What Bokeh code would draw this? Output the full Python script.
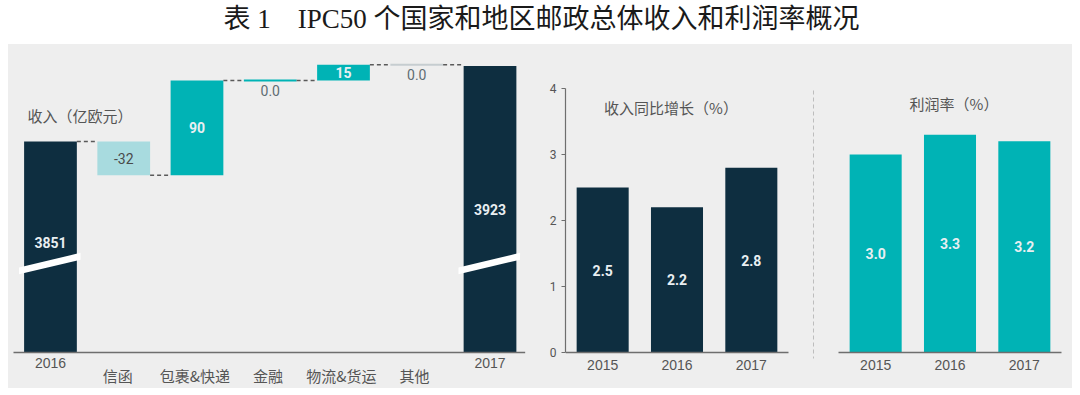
import numpy as np
from bokeh.plotting import figure
from bokeh.layouts import column, row
from bokeh.models import Range1d, FixedTicker
from bokeh.core.properties import value
from bokeh.embed import file_html
from bokeh.resources import INLINE

# ---------------- data ----------------
TITLE = "表 1 IPC50 个国家和地区邮政总体收入和利润率概况"
wf_categories = ["2016", "信函", "包裹&快递", "金融", "物流&货运", "其他", "2017"]
wf_start = 3851
wf_changes = [-32, 90, 0.0, 15, 0.0]
wf_end = 3923
wf_change_labels = ["-32", "90", "0.0", "15", "0.0"]
wf_title = "收入（亿欧元）"

years = ["2015", "2016", "2017"]
growth = [2.5, 2.2, 2.8]
growth_title = "收入同比增长（%）"
margin = [3.0, 3.3, 3.2]
margin_title = "利润率（%）"
y_ticks = [0, 1, 2, 3, 4]

# ---------------- style ----------------
BG = "#eeeeee"
NAVY = "#0e2e40"
TEAL = "#00b3b5"
LTEAL = "#a8dbdf"
ZGREY = "#c6cdd0"
TXT = "#555555"
WHITE = "#e9eff2"
CJK = value("Noto Sans CJK SC")
NUM = value("Roboto")
LAT = value("Liberation Sans")
CJK_SIZE = "15px"
H = 344

def style(p, fill=None):
    p.background_fill_color = fill
    p.border_fill_color = fill
    p.outline_line_color = None
    p.grid.visible = False

# ---------------- title ----------------
t = figure(width=1080, height=44, x_range=Range1d(0, 1080), y_range=Range1d(0, 44),
           x_axis_location=None, y_axis_location=None, min_border=0,
           output_backend="svg", toolbar_location=None)
style(t, "white")
t.text(x=[541], y=[26], text=[TITLE.replace("1 IPC", "1\u3000IPC")],
       text_font=value("Liberation Serif, Noto Sans CJK SC"), text_font_size="27px",
       text_align="center", text_baseline="middle", text_color="#1a1a1a")

# ---------------- waterfall ----------------
FLOOR = 3650       # broken-axis floor
W = 0.72
p1 = figure(width=530, height=H, x_range=Range1d(-0.573, 6.662),
            y_range=Range1d(3615.8, 3943.4),
            x_axis_location=None, y_axis_location=None, min_border=0,
            output_backend="svg", toolbar_location=None)
style(p1)

n = len(wf_categories)
xs = np.arange(n)
bottoms = [FLOOR]
tops = [wf_start]
levels = [wf_start]
run = wf_start
for c in wf_changes:
    new = run + c
    bottoms.append(min(run, new))
    tops.append(max(run, new))
    run = new
    levels.append(run)
bottoms.append(FLOOR)
tops.append(wf_end)

colors = [NAVY]
for c in wf_changes:
    colors.append(LTEAL if c < 0 else TEAL)
colors.append(NAVY)

bar_idx = [i for i in range(n) if tops[i] != bottoms[i]]
p1.vbar(x=[xs[i] for i in bar_idx], width=W, bottom=[bottoms[i] for i in bar_idx],
        top=[tops[i] for i in bar_idx], fill_color=[colors[i] for i in bar_idx],
        line_color=None)

# zero-change markers
zero_idx = [i for i in range(n) if tops[i] == bottoms[i]]
zcols = [TEAL if wf_categories[i] == "金融" else ZGREY for i in zero_idx]
p1.segment(x0=[xs[i] - W / 2 for i in zero_idx], x1=[xs[i] + W / 2 for i in zero_idx],
           y0=[tops[i] for i in zero_idx], y1=[tops[i] for i in zero_idx],
           line_color=zcols, line_width=2)

# axis-break stripes on total bars
sx, sy = [], []
for i in (0, n - 1):
    sx.append([i - 0.43, i + 0.41, i + 0.41, i - 0.43])
    sy.append([FLOOR + 81, FLOOR + 95, FLOOR + 88.5, FLOOR + 74.5])
p1.patches(sx, sy, fill_color="white", line_color=None)

# connectors
p1.segment(x0=[i + W / 2 for i in range(n - 1)], x1=[i + 1 - W / 2 for i in range(n - 1)],
           y0=levels[: n - 1], y1=levels[: n - 1],
           line_color="#5a5a5a", line_width=1.5, line_dash="4 3")

# baseline
p1.segment(x0=[-0.505], x1=[6.48], y0=[FLOOR], y1=[FLOOR], line_color="#6e6e6e", line_width=1.5)

# value labels
tot_labels = [str(wf_start), str(wf_end)]
p1.text(x=[0, n - 1], y=[(FLOOR + wf_start) / 2 + 4, (FLOOR + wf_end) / 2],
        text=tot_labels, text_font=NUM, text_font_size="14px", text_font_style="bold",
        text_color=WHITE, text_align="center", text_baseline="middle")
for j, c in enumerate(wf_changes):
    i = j + 1
    if c == 0:
        p1.text(x=[i], y=[tops[i]], y_offset=10, text=[wf_change_labels[j]], text_font=NUM,
                text_font_size="14px", text_color="#5f6d73",
                text_align="center", text_baseline="middle")
    else:
        col = "#4a4a4a" if c < 0 else WHITE
        p1.text(x=[i], y=[(tops[i] + bottoms[i]) / 2], text=[wf_change_labels[j]], text_font=NUM,
                text_font_size="14px", text_font_style="bold" if c > 0 else "normal",
                text_color=col, text_align="center", text_baseline="middle")

# category labels
yr_i = [0, n - 1]
mid_i = list(range(1, n - 1))
p1.text(x=yr_i, y=[FLOOR] * 2, y_offset=10, text=[wf_categories[i] for i in yr_i],
        text_font=LAT, text_font_size="14px", text_color=TXT,
        text_align="center", text_baseline="middle")
p1.text(x=[i - (0.08 if i == 1 else 0.03) for i in mid_i], y=[FLOOR] * len(mid_i), y_offset=23,
        text=[wf_categories[i] for i in mid_i],
        text_font=CJK, text_font_size=CJK_SIZE, text_color=TXT,
        text_align="center", text_baseline="middle")
p1.text(x=[-0.314], y=[3876], text=[wf_title], text_font=CJK, text_font_size=CJK_SIZE,
        text_color=TXT, text_align="left", text_baseline="middle")

# ---------------- small bar charts ----------------
def bar_fig(vals, color, ttl, ttl_off, ttl_y, with_axis, width, bl, x0, x1):
    p = figure(width=width, height=H, x_range=Range1d(x0, x1),
               y_range=Range1d(-36 / 66, 4 + 44 / 66),
               x_axis_location=None,
               y_axis_location="left" if with_axis else None,
               min_border_left=bl, min_border_right=0, min_border_top=0, min_border_bottom=0,
               output_backend="svg", toolbar_location=None)
    style(p)
    xi = list(range(len(years)))
    p.vbar(x=xi, top=vals, width=0.70, fill_color=color, line_color=None)
    p.text(x=xi, y=[v / 2 for v in vals], text=[f"{v:.1f}" for v in vals],
           text_font=NUM, text_font_size="14px", text_font_style="bold", text_color=WHITE,
           text_align="center", text_baseline="middle")
    p.text(x=[1], y=[ttl_y], x_offset=ttl_off, text=[ttl], text_font=CJK,
           text_font_size=CJK_SIZE, text_color=TXT, text_align="center", text_baseline="middle")
    # baseline and category labels
    p.segment(x0=[-0.5], x1=[len(years) - 0.5], y0=[0], y1=[0], line_color="#6e6e6e", line_width=1.5)
    p.text(x=xi, y=[0] * len(xi), y_offset=12, text=years, text_font=LAT,
           text_font_size="14px", text_color=TXT, text_align="center", text_baseline="middle")
    if with_axis:
        ay = p.yaxis[0]
        ay.ticker = FixedTicker(ticks=y_ticks)
        ay.bounds = (0, 4)
        ay.axis_line_color = "#6e6e6e"
        ay.axis_line_width = 1.2
        ay.major_tick_line_color = "#6e6e6e"
        ay.major_tick_out = 4
        ay.major_tick_in = 0
        ay.minor_tick_line_color = None
        ay.major_label_standoff = 5
        ay.major_label_text_font = "Roboto"
        ay.major_label_text_font_size = "12px"
        ay.major_label_text_color = TXT
    return p

STEP = 74.33
p2 = bar_fig(growth, NAVY, growth_title, -6, 3.71, True, 265, 27, -0.5, -0.5 + 238 / STEP)

# separator
sep = figure(width=20, height=H, x_range=Range1d(0, 20), y_range=Range1d(H, 0),
             x_axis_location=None, y_axis_location=None, min_border=0,
             output_backend="svg", toolbar_location=None)
style(sep)
sep.segment(x0=[10], x1=[10], y0=[46], y1=[314], line_color="#bdbdbd", line_width=1, line_dash="4 3")

p3 = bar_fig(margin, TEAL, margin_title, 4, 3.77, False, 249, 0,
             -0.5 - 15 / STEP, 2.5 + 11 / STEP)

body = row(p1, p2, sep, p3, margin=(0, 8, 0, 8), styles={"background-color": BG})
layout = column(t, body)
open("out.html", "w").write(file_html(layout, INLINE))
